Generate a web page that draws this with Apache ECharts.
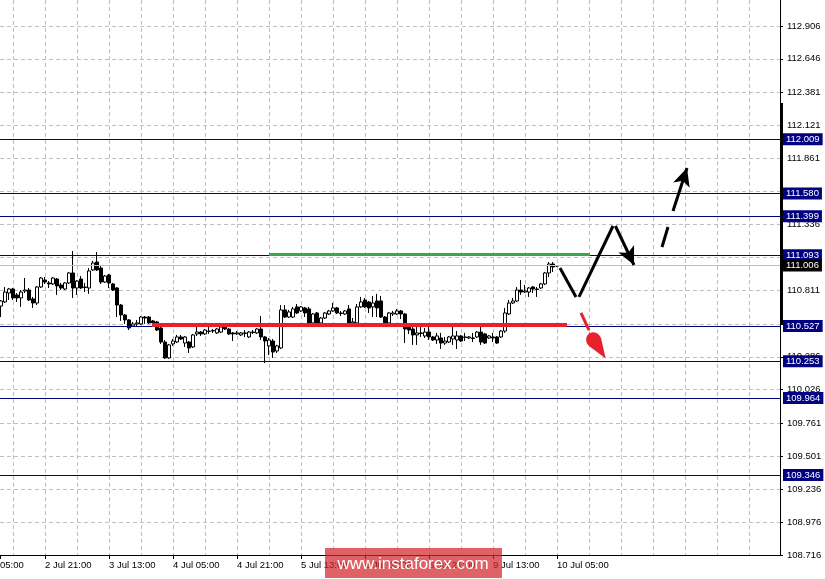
<!DOCTYPE html>
<html>
<head>
<meta charset="utf-8">
<script src="https://cdn.jsdelivr.net/npm/echarts@6/dist/echarts.min.js"></script>
<style>
html,body{margin:0;padding:0;background:#fff;}
#chart{width:825px;height:579px;}
</style>
</head>
<body>
<div id="chart"></div>
<script>
// ---- data (H1 bars, index 0 = 2 Jul 10:00) ----
const opens = [
110.688,110.720,110.791,110.823,110.776,110.752,110.807,110.815,110.744,110.712,
110.839,110.894,110.871,110.863,110.902,110.855,110.823,110.871,110.950,110.831,
110.902,110.839,110.831,110.974,111.037,110.989,110.878,110.934,110.863,110.831,
110.696,110.617,110.578,110.530,110.546,110.546,110.601,110.601,110.570,110.562,
110.514,110.403,110.277,110.388,110.403,110.443,110.395,110.403,110.364,110.467,
110.482,110.467,110.490,110.490,110.475,110.482,110.522,110.506,110.475,110.467,
110.459,110.475,110.443,110.482,110.475,110.506,110.443,110.372,110.411,110.332,
110.356,110.657,110.601,110.601,110.681,110.649,110.673,110.665,110.554,110.633,
110.554,110.593,110.625,110.649,110.673,110.633,110.625,110.665,110.554,110.554,
110.681,110.736,110.720,110.681,110.728,110.728,110.601,110.554,110.625,110.625,
110.649,110.625,110.522,110.506,110.459,110.475,110.451,110.482,110.443,110.419,
110.435,110.395,110.403,110.427,110.419,110.451,110.443,110.435,110.435,110.443,
110.482,110.467,110.435,110.443,110.443,110.443,110.490,110.625,110.712,110.728,
110.815,110.799,110.799,110.839,110.823,110.831,110.863,110.950,111.021,111.005
];
const closes = [
110.728,110.799,110.823,110.752,110.752,110.799,110.815,110.736,110.712,110.839,
110.910,110.878,110.863,110.910,110.847,110.831,110.871,110.950,110.831,110.886,
110.831,110.835,110.966,111.029,110.974,110.878,110.926,110.871,110.815,110.696,
110.617,110.578,110.514,110.546,110.554,110.601,110.593,110.554,110.554,110.498,
110.403,110.277,110.380,110.411,110.443,110.427,110.443,110.356,110.459,110.482,
110.467,110.498,110.486,110.494,110.506,110.522,110.506,110.467,110.467,110.475,
110.475,110.471,110.482,110.478,110.506,110.443,110.411,110.419,110.324,110.372,
110.657,110.601,110.641,110.665,110.633,110.681,110.633,110.554,110.625,110.530,
110.593,110.633,110.649,110.673,110.633,110.629,110.649,110.554,110.562,110.681,
110.720,110.681,110.673,110.712,110.673,110.601,110.554,110.633,110.633,110.649,
110.625,110.506,110.498,110.459,110.475,110.471,110.482,110.443,110.419,110.451,
110.395,110.411,110.443,110.451,110.451,110.411,110.439,110.443,110.431,110.482,
110.403,110.395,110.451,110.435,110.395,110.490,110.633,110.712,110.728,110.815,
110.799,110.807,110.831,110.823,110.819,110.863,110.950,111.021,110.997,111.006
];
const lows = [
110.601,110.712,110.736,110.736,110.720,110.681,110.791,110.728,110.673,110.696,
110.831,110.863,110.831,110.855,110.776,110.815,110.815,110.863,110.752,110.776,
110.823,110.799,110.784,110.966,110.966,110.863,110.871,110.831,110.807,110.601,
110.570,110.546,110.498,110.522,110.522,110.538,110.546,110.546,110.546,110.490,
110.388,110.269,110.269,110.372,110.395,110.419,110.364,110.316,110.356,110.451,
110.451,110.459,110.467,110.475,110.467,110.475,110.498,110.459,110.411,110.459,
110.451,110.443,110.435,110.467,110.467,110.419,110.237,110.300,110.277,110.316,
110.348,110.593,110.593,110.593,110.625,110.641,110.601,110.546,110.546,110.522,
110.546,110.585,110.617,110.641,110.625,110.609,110.617,110.546,110.538,110.546,
110.673,110.673,110.633,110.601,110.601,110.593,110.538,110.546,110.609,110.617,
110.585,110.395,110.467,110.380,110.380,110.443,110.435,110.419,110.411,110.388,
110.348,110.380,110.395,110.380,110.348,110.403,110.411,110.427,110.403,110.435,
110.380,110.388,110.427,110.403,110.388,110.435,110.475,110.617,110.704,110.720,
110.776,110.791,110.760,110.791,110.760,110.823,110.855,110.918,110.958,110.997
];
const highs = [
110.736,110.839,110.831,110.831,110.791,110.815,110.910,110.831,110.760,110.847,
110.918,110.918,110.886,110.918,110.910,110.871,110.878,110.958,111.124,110.894,
110.926,110.871,110.989,111.045,111.116,111.005,110.934,110.942,110.871,110.839,
110.704,110.625,110.585,110.562,110.578,110.609,110.609,110.609,110.578,110.570,
110.522,110.419,110.388,110.427,110.459,110.459,110.451,110.411,110.467,110.522,
110.490,110.506,110.522,110.506,110.514,110.530,110.530,110.514,110.482,110.490,
110.482,110.498,110.490,110.498,110.514,110.609,110.451,110.435,110.427,110.380,
110.696,110.696,110.657,110.681,110.704,110.688,110.681,110.681,110.633,110.641,
110.601,110.641,110.657,110.712,110.681,110.649,110.657,110.696,110.593,110.704,
110.760,110.752,110.728,110.768,110.784,110.768,110.609,110.641,110.649,110.665,
110.657,110.633,110.554,110.522,110.522,110.522,110.514,110.522,110.451,110.475,
110.475,110.443,110.451,110.522,110.490,110.459,110.475,110.451,110.475,110.490,
110.522,110.475,110.459,110.475,110.451,110.498,110.673,110.736,110.752,110.839,
110.894,110.855,110.839,110.847,110.839,110.871,110.958,111.037,111.037,111.013
];

// time axis labels (bar index -> text)
const timeIdx  = [-0.25, 11, 27, 43, 59, 75, 91, 107, 123, 139];
const timeText = ['05:00','2 Jul 21:00','3 Jul 13:00','4 Jul 05:00','4 Jul 21:00','5 Jul 13:00','6 Jul 05:00','6 Jul 21:00','9 Jul 13:00','10 Jul 05:00'];

// price scale labels
const priceTicks = [108.716,108.976,109.236,109.501,109.761,110.026,110.286,110.546,110.811,111.071,111.336,111.596,111.861,112.121,112.381,112.646,112.906];

// horizontal levels
const levels = [112.009, 111.580, 111.399, 111.093, 110.527, 110.253, 109.964, 109.346];
const lastPrice = 111.006;
const greenLevel = {from: 67.0, to: 147.25, price: 111.100};
const redLevel = {from: 37.75, to: 141.5, price: 110.540};

// forecast arrows: [barIndex, price]
const blackDown1 = [[139.75, 110.989], [143.75, 110.760]];
const blackUp    = [[144.5, 110.760], [153.0, 111.322]];
const blackDown2 = [[153.6, 111.322], [158.25, 111.013]];
const dashUp1    = [[165.25, 111.156], [166.75, 111.314]];
const dashUp2    = [[168.0, 111.441], [171.5, 111.781]];
const redDash1   = [[145.0, 110.633], [147.0, 110.498]];
const redHead    = [[147.0, 110.475], [149.125, 110.372]];

// ---------------------------------------------------------------
const X_MIN = -0.25, X_MAX = 194.75;
const candles = opens.map((o, i) => [i, o, closes[i], lows[i], highs[i]]);
const gridX = [];
for (let v = 3; v <= X_MAX; v += 8) gridX.push(v);

const FONT = 'Liberation Sans';
const NAVY = '#000080';
const TEARDROP = 'path://M10,0 L17.5,19 A8,8 0 1,1 2.5,19 Z';

function seg(pts, color, width, symbol, size) {
  return [
    {coord: pts[0], symbol: 'none', lineStyle: {color: color, width: width, type: 'solid'}, label: {show: false}},
    {coord: pts[1], symbol: symbol || 'none', symbolSize: size || 0, itemStyle: {color: color}}
  ];
}

const markData = [];
levels.forEach(v => {
  markData.push({
    yAxis: v,
    lineStyle: {color: NAVY, width: 1, type: 'solid'},
    label: {show: true, position: 'end', distance: 3, formatter: v.toFixed(3), color: '#fff',
            backgroundColor: NAVY, padding: [1, 3, 1, 3], fontSize: 9.5, fontFamily: FONT, lineHeight: 10}
  });
});
markData.push({
  yAxis: lastPrice,
  lineStyle: {color: '#c0c0c0', width: 1, type: 'solid'},
  label: {show: true, position: 'end', distance: 3, formatter: lastPrice.toFixed(3), color: '#fff',
          backgroundColor: '#000', padding: [1, 3, 1, 3], fontSize: 9.5, fontFamily: FONT, lineHeight: 10}
});
markData.push(seg([[greenLevel.from, greenLevel.price], [greenLevel.to, greenLevel.price]], '#3aa84a', 3));
markData.push(seg([[redLevel.from, redLevel.price], [redLevel.to, redLevel.price]], '#e8212c', 4));
markData.push(seg(blackDown1, '#000', 3));
markData.push(seg(blackUp, '#000', 3));
markData.push(seg(blackDown2, '#000', 3, 'arrow', [13, 18]));
markData.push(seg(dashUp1, '#000', 3));
markData.push(seg(dashUp2, '#000', 3, 'arrow', [13, 18]));
markData.push(seg(redDash1, '#e8212c', 3));
markData.push(seg(redHead, '#e8212c', 1, TEARDROP, [15, 30]));

const chart = echarts.init(document.getElementById('chart'), null, {renderer: 'canvas'});
chart.setOption({
  animation: false,
  backgroundColor: '#fff',
  grid: {left: 0, right: 45, top: 0, bottom: 24, containLabel: false, outerBoundsMode: 'none'},
  xAxis: [{
    type: 'value', min: X_MIN, max: X_MAX,
    axisLine: {show: true, onZero: false, lineStyle: {color: '#000', width: 1}},
    axisTick: {show: true, customValues: timeIdx, length: 4, lineStyle: {color: '#000'}},
    axisLabel: {show: true, customValues: timeIdx, align: 'left', margin: 5, color: '#000',
                fontSize: 9.5, fontFamily: FONT,
                formatter: v => { const k = timeIdx.indexOf(v); return k >= 0 ? timeText[k] : ''; }},
    splitLine: {show: false}
  }, {
    type: 'value', min: X_MIN, max: X_MAX, position: 'bottom',
    axisLine: {show: false, onZero: false},
    axisTick: {show: false, customValues: gridX},
    axisLabel: {show: false, customValues: gridX},
    splitLine: {show: true, lineStyle: {color: '#c0c0c0', type: [4, 3], width: 1}}
  }],
  yAxis: {
    type: 'value', position: 'right', min: 108.716, max: 113.112, scale: true,
    axisLine: {show: true, onZero: false, lineStyle: {color: '#000', width: 1}},
    axisTick: {show: true, customValues: priceTicks, length: 3, lineStyle: {color: '#000'}},
    axisLabel: {show: true, customValues: priceTicks, margin: 7, color: '#000', fontSize: 9.5, fontFamily: FONT,
                formatter: v => v.toFixed(3)},
    splitLine: {show: true, lineStyle: {color: '#c0c0c0', type: [4, 3], width: 1}}
  },
  series: [{
    type: 'candlestick',
    xAxisIndex: 0,
    data: candles,
    barWidth: 3,
    itemStyle: {color: '#fff', color0: '#000', borderColor: '#000', borderColor0: '#000', borderWidth: 1},
    encode: {x: 0, y: [1, 2, 3, 4]}
  }, {
    type: 'line',
    xAxisIndex: 0,
    data: [],
    clip: false,
    silent: true,
    markLine: {silent: true, symbol: 'none', animation: false, data: markData}
  }],
  graphic: [
    {type: 'rect', shape: {x: 780, y: 103, width: 3, height: 221}, style: {fill: '#000'}, z: 100},
    {type: 'rect', shape: {x: 325, y: 548, width: 177, height: 30}, style: {fill: 'rgba(210,38,44,0.72)'}, z: 100},
    {type: 'text', x: 413, y: 564, z: 101,
     style: {text: 'www.instaforex.com', fill: '#fff', font: '17px "Liberation Sans"', textAlign: 'center', textVerticalAlign: 'middle'}}
  ]
});
</script>
</body>
</html>
